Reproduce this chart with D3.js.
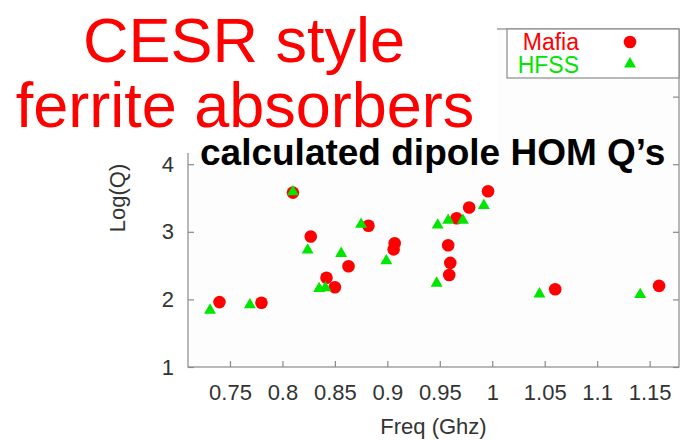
<!DOCTYPE html>
<html>
<head>
<meta charset="utf-8">
<script src="https://cdn.jsdelivr.net/npm/d3@7"></script>
<style>
    body { margin: 0; background: #ffffff; }
    svg { display: block; font-family: "Liberation Sans", Arial, Helvetica, sans-serif; }
</style>
</head>
<body>
<div id="chart"></div>
<script>
// Mafia results (red circles)
const mafiaFreq = [0.740, 0.780, 0.810, 0.827, 0.842, 0.850, 0.863, 0.882, 0.907, 0.906,
                   0.958, 0.960, 0.959, 0.966, 0.978, 0.996, 1.060, 1.159];
const mafiaLogQ = [1.96, 1.95, 3.58, 2.93, 2.32, 2.18, 2.49, 3.09, 2.83, 2.74,
                   2.80, 2.54, 2.36, 3.20, 3.36, 3.60, 2.15, 2.20];

// HFSS results (green triangles)
const hfssFreq = [0.731, 0.769, 0.810, 0.824, 0.835, 0.841, 0.856, 0.875, 0.899, 0.948,
                  0.947, 0.958, 0.972, 0.992, 1.045, 1.141];
const hfssLogQ = [1.84, 1.92, 3.59, 2.73, 2.16, 2.17, 2.68, 3.11, 2.57, 3.10,
                  2.24, 3.17, 3.17, 3.39, 2.08, 2.07];

const xTicks = [0.75, 0.8, 0.85, 0.9, 0.95, 1, 1.05, 1.1, 1.15];
const yTicks = [1, 2, 3, 4, 5, 6];
const yLabelTicks = [1, 2, 3, 4]; // 5 and 6 sit under the title panel

const RED = '#ff0000';
const GREEN = '#00e600';

const config = {
    width: 682,
    height: 440,
    margin: { top: 29, right: 3, bottom: 73, left: 188 },
    xDomain: [0.71, 1.178],
    yDomain: [1, 6]
};

const innerW = config.width - config.margin.left - config.margin.right;
const innerH = config.height - config.margin.top - config.margin.bottom;

const svg = d3.select('#chart')
    .append('svg')
    .attr('width', config.width)
    .attr('height', config.height);

const g = svg.append('g')
    .attr('transform', `translate(${config.margin.left},${config.margin.top})`);

const x = d3.scaleLinear().domain(config.xDomain).range([0, innerW]);
const y = d3.scaleLinear().domain(config.yDomain).range([innerH, 0]);

// Plot frame
g.append('rect')
    .attr('width', innerW)
    .attr('height', innerH)
    .attr('fill', '#fdfdfd')
    .attr('stroke', '#8a8a8a')
    .attr('stroke-width', 1.2);

// Axes with inward ticks on all four sides
function styleAxis(sel) {
    sel.select('.domain').remove();
    sel.selectAll('.tick line').attr('stroke', '#8a8a8a').attr('stroke-width', 1.2);
    sel.selectAll('.tick text')
        .attr('fill', '#333')
        .style('font-size', '22px')
        .style('font-family', '"Liberation Sans", Arial, Helvetica, sans-serif');
}

g.append('g')
    .attr('transform', `translate(0,${innerH})`)
    .call(d3.axisBottom(x).tickValues(xTicks).tickSizeInner(-6).tickSizeOuter(0)
        .tickPadding(17).tickFormat(d3.format('')))
    .call(styleAxis);

g.append('g')
    .call(d3.axisTop(x).tickValues(xTicks).tickSizeInner(-6).tickSizeOuter(0).tickFormat(''))
    .call(styleAxis);

g.append('g')
    .call(d3.axisLeft(y).tickValues(yLabelTicks).tickSizeInner(-6).tickSizeOuter(0)
        .tickPadding(14).tickFormat(d3.format('d')))
    .call(styleAxis);

g.append('g')
    .attr('transform', `translate(${innerW},0)`)
    .call(d3.axisRight(y).tickValues(yTicks).tickSizeInner(-6).tickSizeOuter(0).tickFormat(''))
    .call(styleAxis);

// Axis labels
g.append('text')
    .attr('x', innerW / 2)
    .attr('y', innerH + 67)
    .attr('text-anchor', 'middle')
    .attr('fill', '#333')
    .style('font-size', '22px')
    .text('Freq (Ghz)');

g.append('text')
    .attr('transform', 'rotate(-90)')
    .attr('x', -innerH / 2)
    .attr('y', -63)
    .attr('text-anchor', 'middle')
    .attr('fill', '#333')
    .style('font-size', '22px')
    .text('Log(Q)');

// Data points
const mafia = mafiaFreq.map((f, i) => ({ f: f, q: mafiaLogQ[i] }));
const hfss = hfssFreq.map((f, i) => ({ f: f, q: hfssLogQ[i] }));

const tri = d3.symbol().type(d3.symbolTriangle).size(62);

g.selectAll('.mafia')
    .data(mafia)
    .enter()
    .append('circle')
    .attr('class', 'mafia')
    .attr('cx', d => x(d.f))
    .attr('cy', d => y(d.q))
    .attr('r', 6.3)
    .attr('fill', RED);

g.selectAll('.hfss')
    .data(hfss)
    .enter()
    .append('path')
    .attr('class', 'hfss')
    .attr('d', tri)
    .attr('transform', d => `translate(${x(d.f)},${y(d.q)})`)
    .attr('fill', GREEN);

// Legend
const legend = svg.append('g');
legend.append('rect')
    .attr('x', 507)
    .attr('y', config.margin.top)
    .attr('width', config.margin.left + innerW - 507)
    .attr('height', 49)
    .attr('fill', '#ffffff')
    .attr('stroke', '#8a8a8a')
    .attr('stroke-width', 1.2);

[
    { label: 'Mafia', color: RED, base: 50, mark: 'circle' },
    { label: 'HFSS', color: GREEN, base: 73, mark: 'tri' }
].forEach(item => {
    legend.append('text')
        .attr('x', 579)
        .attr('y', item.base)
        .attr('text-anchor', 'end')
        .attr('fill', item.color)
        .style('font-size', '23px')
        .text(item.label);
    if (item.mark === 'circle') {
        legend.append('circle')
            .attr('cx', 630).attr('cy', item.base - 8).attr('r', 6.3)
            .attr('fill', item.color);
    } else {
        legend.append('path')
            .attr('d', tri)
            .attr('transform', `translate(630,${item.base - 9})`)
            .attr('fill', item.color);
    }
});

// Slide title over the chart (white panel hides part of the frame)
svg.append('rect')
    .attr('x', 0).attr('y', 0)
    .attr('width', 497).attr('height', 153)
    .attr('fill', '#ffffff');

svg.append('text')
    .attr('x', 244)
    .attr('y', 62)
    .attr('text-anchor', 'middle')
    .attr('fill', RED)
    .style('font-size', '63px')
    .text('CESR style');

svg.append('text')
    .attr('x', 245)
    .attr('y', 127)
    .attr('text-anchor', 'middle')
    .attr('fill', RED)
    .style('font-size', '63px')
    .text('ferrite absorbers');

svg.append('text')
    .attr('x', 200)
    .attr('y', 165)
    .attr('fill', '#000')
    .style('font-size', '37px')
    .style('font-weight', 'bold')
    .text('calculated dipole HOM Q\u2019s');
</script>
</body>
</html>
